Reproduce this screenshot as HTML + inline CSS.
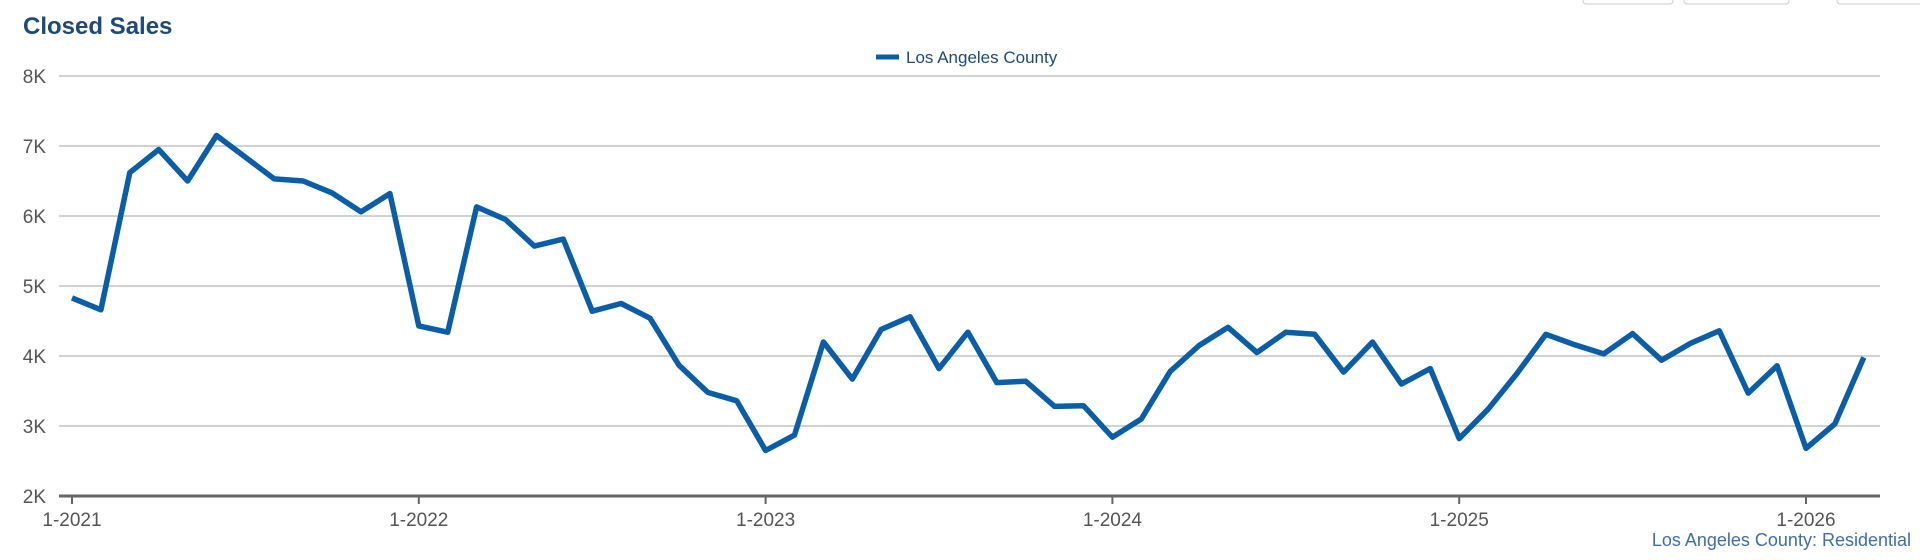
<!DOCTYPE html>
<html><head><meta charset="utf-8"><style>
html,body{margin:0;padding:0;background:#fff;width:1920px;height:560px;overflow:hidden;font-family:"Liberation Sans",Arial,sans-serif;}
svg{display:block}
</style></head><body>
<svg id="chart" width="1920" height="560" viewBox="0 0 1920 560">
  <rect x="1583" y="-6" width="90" height="10" rx="3" fill="#fff" stroke="#ccc"/>
  <rect x="1684" y="-6" width="105" height="10" rx="3" fill="#fff" stroke="#ccc"/>
  <rect x="1837" y="-6" width="90" height="10" rx="3" fill="#fff" stroke="#ccc"/>
  <text x="23" y="34" font-size="24" font-weight="bold" fill="#1d4a78">Closed Sales</text>
  <g>
    <line x1="876" y1="57" x2="899" y2="57" stroke="#0a5ea8" stroke-width="5"/>
    <text x="906" y="63" font-size="17" fill="#1d4a78">Los Angeles County</text>
  </g>
  <g id="grid"></g>
  <g id="yticks"></g>
  <g id="xticks"></g>
  <g id="series"></g>
  <text x="1911" y="546" font-size="18" fill="#3f6ea8" text-anchor="end">Los Angeles County: Residential</text>
</svg>
<script>
const yTickValues = [2, 3, 4, 5, 6, 7, 8];
const yTickLabels = ["2K","3K","4K","5K","6K","7K","8K"];
const xTickIndex = [0, 12, 24, 36, 48, 60];
const xTickLabels = ["1-2021","1-2022","1-2023","1-2024","1-2025","1-2026"];
const salesK = [
  4.83,4.66,6.62,6.95,6.50,7.15,6.84,6.53,6.50,6.33,6.06,6.32,
  4.43,4.34,6.13,5.95,5.57,5.67,4.64,4.75,4.54,3.87,3.48,3.36,
  2.65,2.87,4.20,3.67,4.38,4.56,3.82,4.34,3.62,3.64,3.28,3.29,
  2.84,3.10,3.78,4.15,4.41,4.05,4.34,4.31,3.77,4.20,3.60,3.82,
  2.82,3.24,3.75,4.31,4.16,4.03,4.32,3.94,4.18,4.36,3.47,3.86,
  2.68,3.03,3.98
];
const NS='http://www.w3.org/2000/svg';
const plotL=59, plotR=1880, y0=496, y1=76;
function x(i){return 72 + i*(1806-72)/60;}
function y(v){return y0 - (v-2)*(y0-y1)/6;}
const grid=document.getElementById('grid'), yt=document.getElementById('yticks'), xt=document.getElementById('xticks'), ser=document.getElementById('series');
yTickValues.forEach((v,k)=>{
  if(k>0){
    const l=document.createElementNS(NS,'line');
    l.setAttribute('x1',plotL);l.setAttribute('x2',plotR);l.setAttribute('y1',y(v));l.setAttribute('y2',y(v));
    l.setAttribute('stroke','#c4c4c4');l.setAttribute('stroke-width','1.5');
    
    
    grid.appendChild(l);
  }
  const t=document.createElementNS(NS,'text');
  t.setAttribute('x',46);t.setAttribute('y',y(v)+7);t.setAttribute('text-anchor','end');
  t.setAttribute('font-size','19');t.setAttribute('fill','#555');
  t.textContent=yTickLabels[k];
  
  
  yt.appendChild(t);
});
const ax=document.createElementNS(NS,'line');
ax.setAttribute('x1',plotL);ax.setAttribute('x2',plotR);ax.setAttribute('y1',y0);ax.setAttribute('y2',y0);
ax.setAttribute('stroke','#666');ax.setAttribute('stroke-width','3');


xt.appendChild(ax);
xTickIndex.forEach((idx,k)=>{
  const tk=document.createElementNS(NS,'line');
  tk.setAttribute('x1',x(idx));tk.setAttribute('x2',x(idx));tk.setAttribute('y1',y0);tk.setAttribute('y2',y0+8);
  tk.setAttribute('stroke','#666');tk.setAttribute('stroke-width','2');
  
  
  xt.appendChild(tk);
  const t=document.createElementNS(NS,'text');
  t.setAttribute('x',x(idx));t.setAttribute('y',526);t.setAttribute('text-anchor','middle');
  t.setAttribute('font-size','19');t.setAttribute('fill','#555');
  t.textContent=xTickLabels[k];
  
  
  xt.appendChild(t);
});
const p=document.createElementNS(NS,'polyline');
p.setAttribute('points',salesK.map((v,i)=>x(i).toFixed(1)+','+y(v).toFixed(1)).join(' '));
p.setAttribute('fill','none');p.setAttribute('stroke','#0a5ea8');p.setAttribute('stroke-width','5.5');
p.setAttribute('stroke-linejoin','round');


ser.appendChild(p);
</script>
</body></html>
